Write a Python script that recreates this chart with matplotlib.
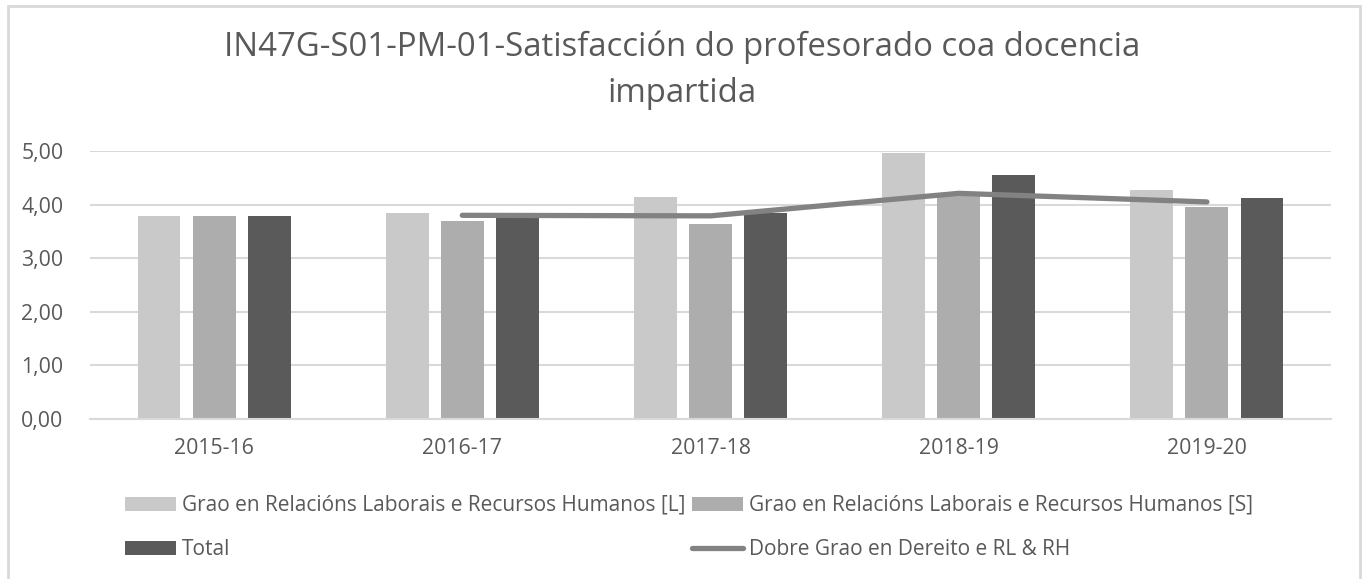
import matplotlib
matplotlib.use("Agg")
import matplotlib.pyplot as plt
from matplotlib.patches import Rectangle
import numpy as np

categories = ["2015-16", "2016-17", "2017-18", "2018-19", "2019-20"]
grao_L = [3.78, 3.84, 4.14, 4.97, 4.28]
grao_S = [3.79, 3.69, 3.64, 4.18, 3.96]
total = [3.79, 3.75, 3.85, 4.55, 4.12]
dobre = [np.nan, 3.80, 3.79, 4.21, 4.05]
yticks = [0, 1, 2, 3, 4, 5]
ytick_labels = ["0,00", "1,00", "2,00", "3,00", "4,00", "5,00"]
title = "IN47G-S01-PM-01-Satisfacción do profesorado coa docencia\nimpartida"
labels = ["Grao en Relacións Laborais e Recursos Humanos [L]",
          "Grao en Relacións Laborais e Recursos Humanos [S]",
          "Total", "Dobre Grao en Dereito e RL & RH"]

plt.rcParams['font.family'] = ['Open Sans', 'DejaVu Sans']
txt = '#595959'

W, H = 1364, 579
fig = plt.figure(figsize=(W / 100, H / 100), dpi=100)
fig.patch.set_facecolor('white')

# outer chart border
fig.add_artist(Rectangle((8 / W, -0.01), (1360 - 8) / W, (H - 6) / H + 0.01,
                         transform=fig.transFigure, fill=False,
                         edgecolor='#D9D9D9', lw=2))

ax = fig.add_axes([90 / W, (H - 419) / H, (1331 - 90) / W, (419 - 151) / H])
x = np.arange(len(categories))
bw = 0.173
off = 0.222
b1 = ax.bar(x - off, grao_L, bw, color='#C9C9C9', zorder=2)
b2 = ax.bar(x, grao_S, bw, color='#ADADAD', zorder=2)
b3 = ax.bar(x + off, total, bw, color='#5A5A5A', zorder=2)
ln, = ax.plot(x, dobre, color='#828282', lw=3.8, solid_capstyle='round',
              solid_joinstyle='round', zorder=3)

ax.set_xlim(-0.5, len(categories) - 0.5)
ax.set_ylim(0, 5)
ax.set_yticks(yticks)
ax.set_yticklabels(ytick_labels)
ax.set_xticks(x)
ax.set_xticklabels(categories)
ax.grid(axis='y', color='#D9D9D9', lw=1.5, zorder=0)
ax.set_axisbelow(True)
for s in ['top', 'right', 'left']:
    ax.spines[s].set_visible(False)
ax.spines['bottom'].set_color('#D9D9D9')
ax.spines['bottom'].set_linewidth(1.5)
ax.tick_params(axis='both', length=0, labelsize=15.3, colors=txt)
ax.tick_params(axis='y', pad=19)
ax.tick_params(axis='x', pad=14)

fig.text(0.5, (H - 31) / H, title, ha='center', va='top', fontsize=23.7,
         color=txt, linespacing=1.5)

handles = [b1, b3, b2, ln]
hl = [labels[0], labels[2], labels[1], labels[3]]
leg = fig.legend(handles, hl, ncol=2, loc='upper left',
                 bbox_to_anchor=(125 / W, (H - 495) / H), frameon=False,
                 fontsize=15, labelcolor=txt, handlelength=2.45, handleheight=0.67,
                 handletextpad=0.3, columnspacing=0.3, labelspacing=1.1,
                 borderpad=0, borderaxespad=0)

fig.savefig("out.png", dpi=100, facecolor='white')
